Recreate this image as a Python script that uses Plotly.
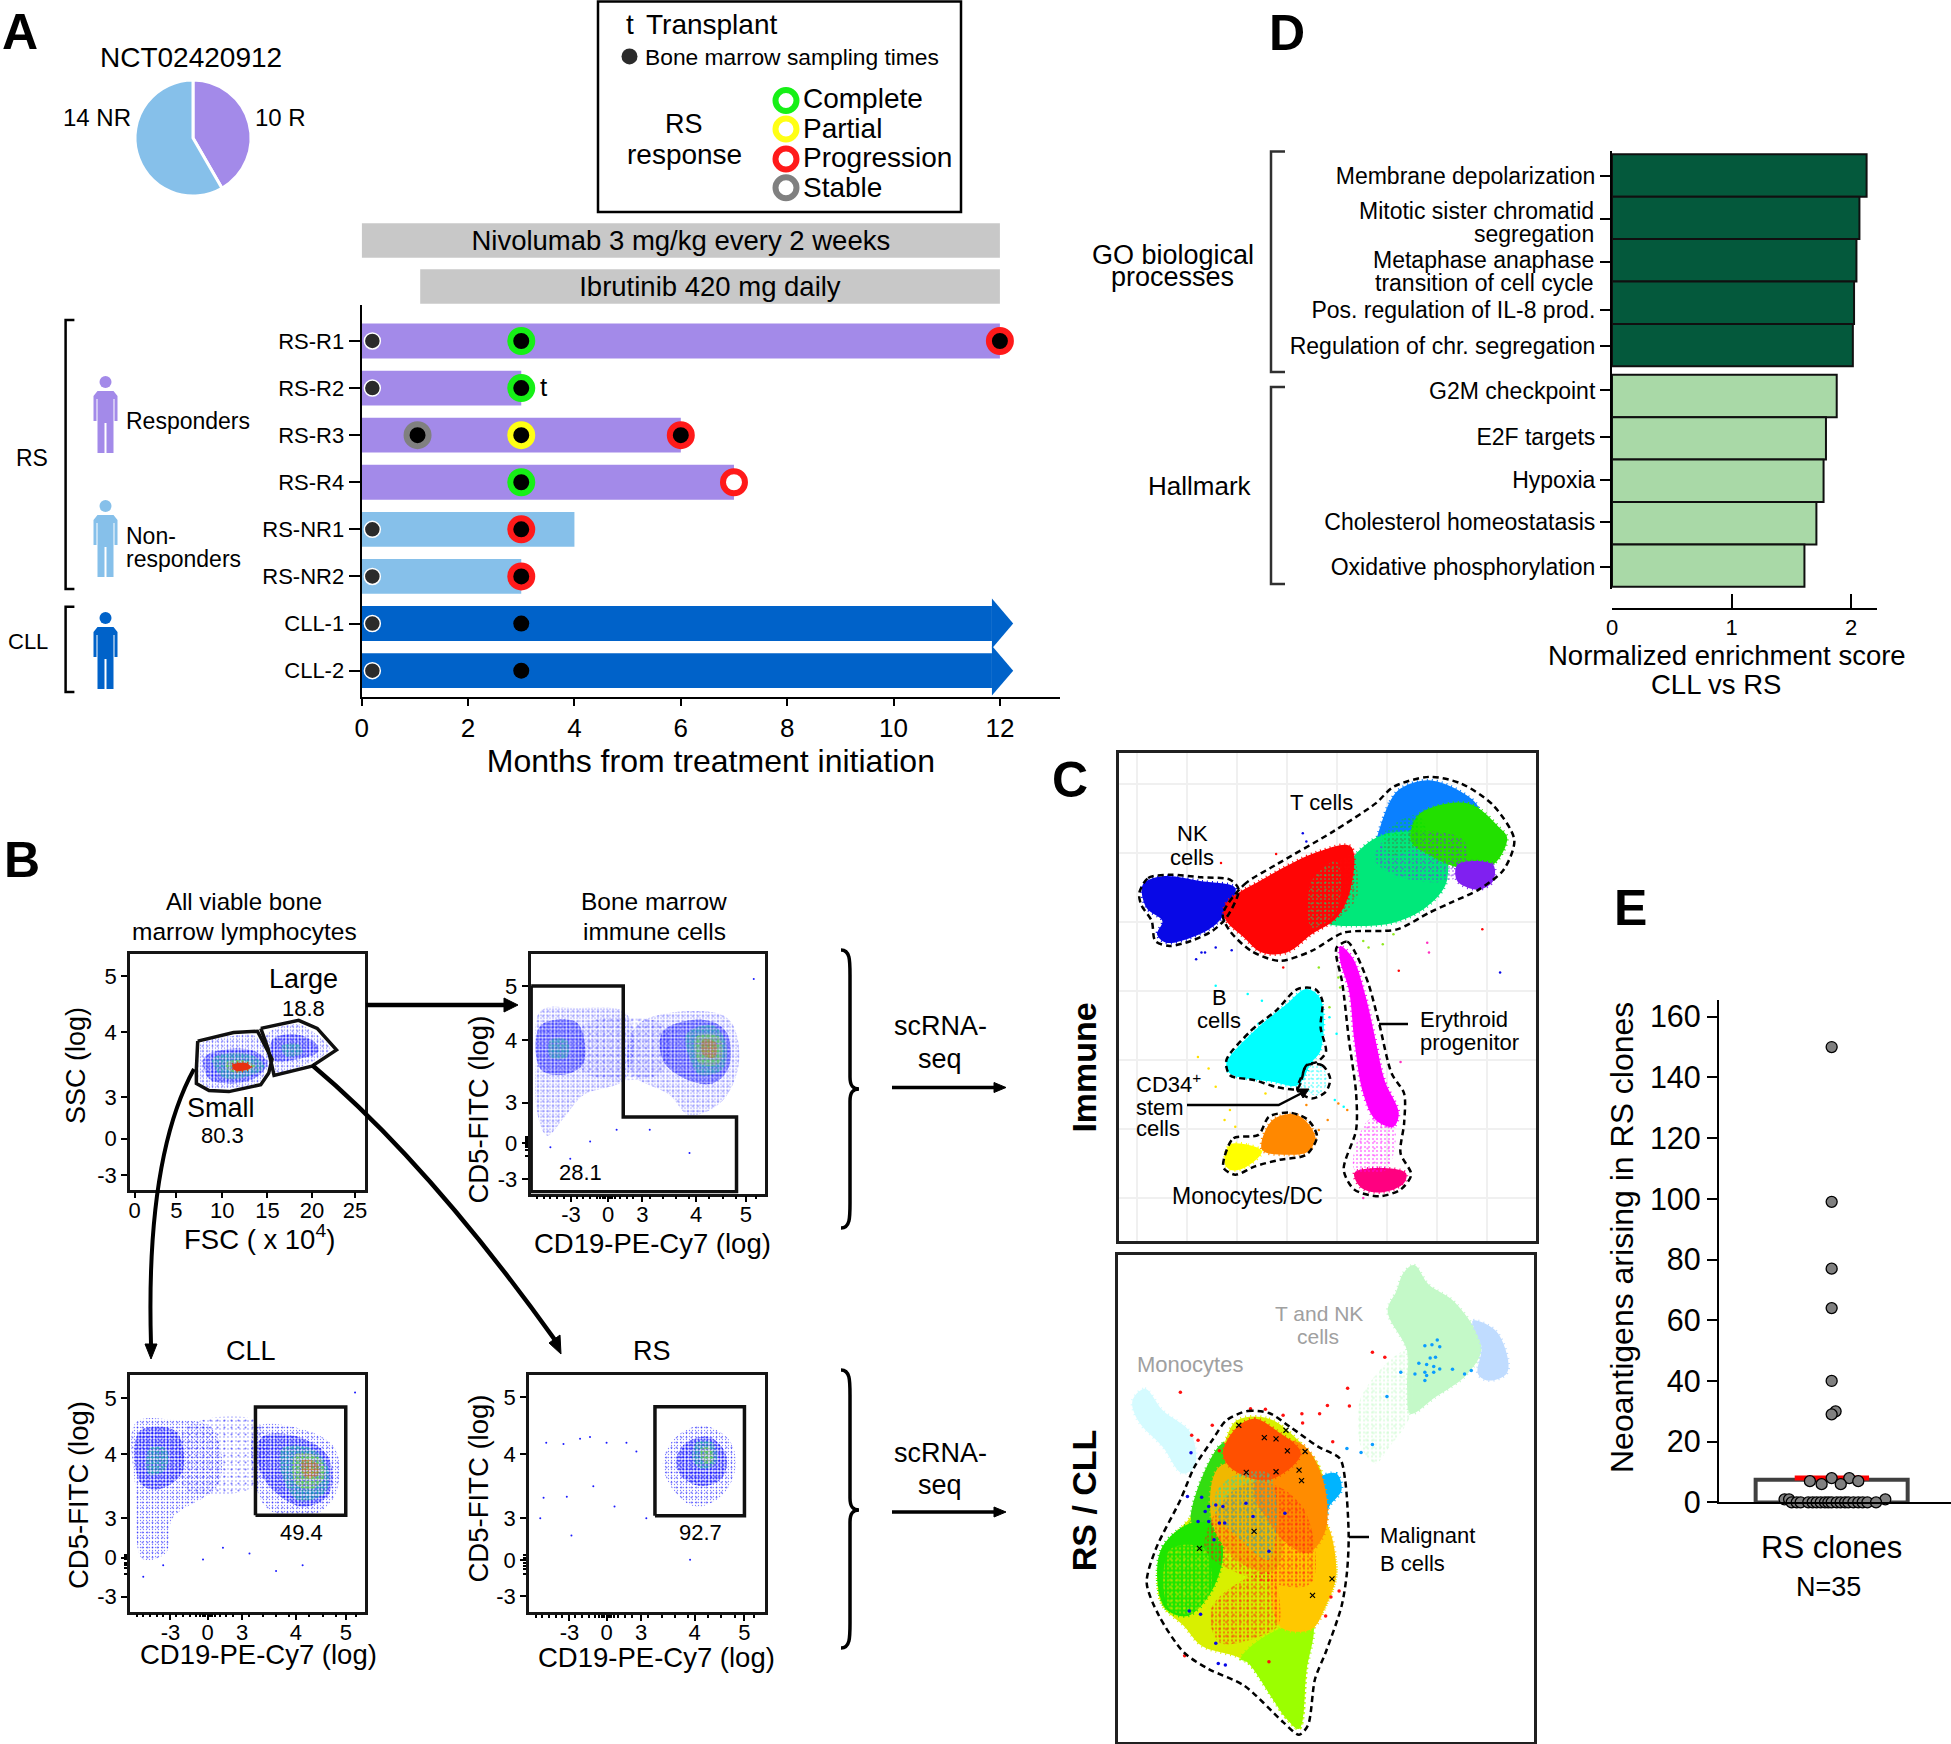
import plotly.graph_objects as go

W = 1951
H = 1744
REG = "Liberation Sans, Arial, sans-serif"

# ---- panel A
PIE_LABELS = ["R", "NR"]
PIE_VALUES = [10, 14]
ROWS = ["RS-R1", "RS-R2", "RS-R3", "RS-R4", "RS-NR1", "RS-NR2", "CLL-1", "CLL-2"]
MONTHS = [12, 3, 6, 7, 4, 3, 11.85, 11.85]
ROW_GROUP = ["R", "R", "R", "R", "NR", "NR", "CLL", "CLL"]
DRUGS = ["Nivolumab 3 mg/kg every 2 weeks", "Ibrutinib 420 mg daily"]
DRUG_START = [0, 1.1]
DRUG_END = [12, 12]
BASE_ROWS = ["RS-R1", "RS-R2", "RS-NR1", "RS-NR2", "CLL-1", "CLL-2"]
BASE_X = [0.2, 0.2, 0.2, 0.2, 0.2, 0.2]
CLL_ROWS = ["CLL-1", "CLL-2"]
CLL_X = [3, 3]
ARROW_TIP = 12.25
COMPLETE_ROWS = ["RS-R1", "RS-R2", "RS-R4"]
COMPLETE_X = [3, 3, 3]
PARTIAL_ROWS = ["RS-R3"]
PARTIAL_X = [3]
PROGRESSION_ROWS = ["RS-R1", "RS-R3", "RS-NR1", "RS-NR2"]
PROGRESSION_X = [12, 6, 3, 3]
STABLE_ROWS = ["RS-R3"]
STABLE_X = [1.05]
OPEN_ROWS = ["RS-R4"]
OPEN_X = [7]
MONTH_TICKS = [0, 2, 4, 6, 8, 10, 12]

# ---- panel D
NES = [2.13, 2.07, 2.045, 2.025, 2.015, 1.88, 1.79, 1.77, 1.71, 1.61]
NES_GROUP = ["GO", "GO", "GO", "GO", "GO", "H", "H", "H", "H", "H"]
NES_ROW = [0, 1, 2, 3, 4, 5.2, 6.2, 7.2, 8.2, 9.2]
# the ticks in the original do not sit quite on the bar centres
SET_ROWS = [0, 3.18, 4.03, 5.07, 6.16, 7.17, 8.18, 9.23]
SET_NAMES = ["Membrane depolarization", "Pos. regulation of IL-8 prod.",
             "Regulation of chr. segregation", "G2M checkpoint", "E2F targets",
             "Hypoxia", "Cholesterol homeostatasis", "Oxidative phosphorylation"]
TWO_LINE_ROWS = [1.03, 2.04]

# ---- panel E
NEO_VALUES = [150, 99, 77, 64, 40, 30, 29, 8, 8, 7, 7, 6, 6, 1, 1, 1,
              0, 0, 0, 0, 0, 0, 0, 0, 0, 0, 0, 0, 0, 0, 0, 0, 0, 0, 0]
NEO_SWARM = [0, 0, 0, 0, 0, .026, 0, 0, .116, -.143, .175, -.066, .06, -.31, -.28, .353,
             -.263, -.23, -.204, -.154, -.125, -.099, -.072, -.044, -.022, 0, .033, .059,
             .088, .11, .143, .175, .204, .235, .292]
NEO_BAR = 7.5
NEO_MEAN = 8
NEO_TICKS = [0, 20, 40, 60, 80, 100, 120, 140, 160]

# ---- panel B, values in channel units of each plot
F1_YTICKS = [36.8, 27.1, 16, 8.8, 2.5]
F2_YTICKS = [35.8, 26.5, 15.7, 8.7, 2.5]
F3_YTICKS = [36.8, 27.1, 16.1, 9.3, 2.6]
F4_YTICKS = [37.1, 27.2, 16.2, 9, 2.7]
LOG_LABELS = ["5", "4", "3", "0", "-3"]
FSC_TICKS = [0.7, 7, 13.9, 20.7, 27.4, 33.9]
FSC_LABELS = ["0", "5", "10", "15", "20", "25"]
CD19_TICKS = [6.1, 11.7, 16.9, 25, 32.5]
CD19_LABELS = ["-3", "0", "3", "4", "5"]
CD19_MINOR = [1, 2, 3, 4, 5, 7, 8, 9, 10, 10.5, 11, 11.3, 12, 12.3, 12.8, 13.5, 14.5, 15.5,
              18, 20, 22, 24, 27, 29, 31, 34]
LOG_MINOR = [6.5, 7.5, 8, 8.4, 9.1, 9.4, 9.8]

SMALL_GATE = ([10.2, 15.6, 19.2, 21.4, 20.9, 19.7, 14.9, 11.9, 10, 10, 10.2],
              [25.6, 27.1, 27.3, 22.5, 20.1, 18.1, 16.9, 17.1, 18.3, 20.8, 25.6])
LARGE_GATE = ([19.7, 25.4, 28.2, 31.1, 27.4, 21.7, 20.8, 19.7],
              [27.8, 29.2, 27.8, 24.1, 21.3, 19.7, 24.3, 27.8])
IMMUNE_GATE = ([0.1, 14, 14, 31.1, 31.1, 0.1, 0.1], [35.8, 35.8, 13.2, 13.2, 0.3, 0.3, 35.8])
CLL_GATE = ([18.9, 32.5, 32.5, 18.9, 18.9], [16.6, 16.6, 35.3, 35.3, 16.6])
RS_GATE = ([19, 32.5, 32.5, 19, 19], [16.6, 16.6, 35.4, 35.4, 16.6])

F1_CLOUDS = [
    ("sparse", [10.4, 15.4, 18.9, 21, 20.4, 19.4, 14.9, 11.9, 10.4], [24.8, 26.5, 26.5, 22.3, 20.3, 18.5, 17.5, 17.5, 18.8]),
    ("sparse", [20.6, 25.2, 27.4, 30.1, 26.9, 21.9, 20.9], [26.8, 28.5, 27.3, 24.3, 21.8, 20.3, 23.8]),
    ("mid", [21.4, 24.9, 27.9, 28.4, 24.4, 21.6], [25.8, 26.8, 25.3, 23.8, 22.3, 22.3]),
    ("mid", [11.2, 15.4, 18.9, 20.7, 18.9, 14.9, 11.9], [22.8, 24.3, 23.8, 21.8, 19.3, 18.3, 19.1]),
    ("green_dots", [22.9, 25.4, 25.9, 23.4], [24.8, 25.1, 23.5, 23.1]),
    ("green_dots", [12.4, 15.9, 19.2, 20.2, 17.9, 14.1], [22.5, 23.6, 22.7, 21.1, 19.6, 19.3]),
    ("yellow_dots", [14.4, 16.9, 18.9, 16.9, 14.9], [21.8, 22.3, 21.3, 20.3, 20.5]),
    ("red", [15.4, 17.6, 18.2, 15.9], [21.5, 21.8, 21, 20.5]),
]
F2_CLOUDS = [
    ("sparse", [1.5, 7, 14.5, 14.5, 8, 5, 2.5, 1, 0.8], [31.5, 32, 31, 20, 17, 13, 10, 14, 23]),
    ("thin", [8, 20, 20, 8], [29, 29, 21, 21]),
    ("sparse", [16, 25, 30, 31.5, 29, 24, 21, 15], [29, 31.5, 30, 23, 16, 13.5, 17, 21]),
    ("mid", [1.5, 7, 8, 5, 1.5], [29, 29.5, 22.5, 20.5, 21.5]),
    ("green_dots", [3, 5.5, 5.5, 3], [26.5, 26.5, 23.5, 23.5]),
    ("mid", [20, 26, 29.5, 30, 27.5, 23, 20], [28, 30, 28, 22, 19, 20, 23]),
    ("green_dots", [23.5, 27.5, 29.5, 29, 25.5, 24], [27.5, 29, 26, 21.5, 20.5, 23.5]),
    ("yellow_dots", [25, 28.5, 28.5, 25.5], [27, 27, 22.5, 22.5]),
    ("red_dots", [26, 28, 27.8, 26], [26.5, 26, 23.5, 24]),
]
F3_CLOUDS = [
    ("sparse", [0.9, 6.4, 12.4, 13.4, 6.4, 5.4, 1.9, 0.9], [32.6, 33.1, 31.6, 22.1, 16.1, 10.1, 9.1, 20.1]),
    ("thin", [8.4, 19.4, 19.4, 8.4], [31.6, 32.6, 22.1, 21.1]),
    ("sparse", [18.9, 25.4, 30.9, 30.9, 27.4, 20.4], [31.6, 31.6, 28.1, 20.1, 16.6, 18.1]),
    ("mid", [1.4, 6.9, 7.9, 4.4, 1.6], [31.1, 31.1, 24.1, 21.1, 22.1]),
    ("green_dots", [2.9, 5.4, 5.4, 2.9], [28.1, 28.1, 24.6, 23.6]),
    ("mid", [19.9, 25.4, 29.9, 29.9, 25.9, 21.4, 19.4], [30.1, 30.1, 26.6, 20.1, 18.1, 21.1, 25.1]),
    ("green_dots", [22.9, 27.4, 29.9, 29.4, 25.4, 22.9], [28.1, 28.1, 24.6, 20.6, 19.1, 23.6]),
    ("yellow_dots", [24.9, 28.4, 29.4, 27.4, 24.9], [27.1, 26.6, 23.6, 21.1, 22.1]),
    ("red_dots", [25.9, 28.2, 28.4, 26.4], [26.1, 25.6, 23.6, 23.1]),
]
F4_CLOUDS = [
    ("sparse", [22.2, 26.2, 30.2, 31.2, 29.2, 25.2, 21.7, 20.2], [30.2, 32.2, 29.7, 25.2, 20.2, 18.2, 21.2, 25.7]),
    ("mid", [23.7, 27.2, 29.7, 29.2, 26.2, 23.2, 22.2], [29.2, 30.2, 27.2, 23.2, 21.7, 23.2, 26.2]),
    ("green_dots", [25.2, 27.7, 28.2, 26.2, 24.7], [29.2, 29.2, 25.7, 24.7, 26.2]),
    ("yellow_dots", [26, 27.4, 27.7, 26.4], [28.2, 28.2, 26, 25.7]),
]
F2_STRAY_X = [33.7, 3, 6, 9, 13, 18, 24]
F2_STRAY_Y = [37, 8, 6, 9, 11, 11, 7]
F3_STRAY_X = [33.9, 2, 5, 11, 14, 18, 22, 26]
F3_STRAY_Y = [37.8, 6, 8, 9, 11, 10, 7, 8]
F4_STRAY_X = [2.6, 5.2, 7.7, 9.2, 11.7, 14.7, 16.2, 2.2, 5.7, 9.7, 12.9, 1.7, 6.4, 17.7, 24.3]
F4_STRAY_Y = [29.2, 29, 29.9, 30.2, 29.2, 29.2, 27.7, 19.7, 19.9, 21.7, 18.2, 16.2, 13.2, 16.2, 9]

# ---- panel C, arbitrary embedding units
U1_GRID_X = [2.68, 4.1, 5.5, 6.9, 8.3, 9.72, 11.12, 12.53]
U1_GRID_Y = [1.25, 3.33, 5.42, 7.5, 9.57, 11.65, 13.73]
U1_CLUSTERS = [
    ("#0808e6", [2.85, 3.4, 4.5, 5.45, 5.3, 4.9, 4.2, 3.5, 3.25, 3.4, 2.95], [10.7, 10.95, 10.8, 10.6, 10.1, 9.5, 9.1, 8.95, 9.2, 9.6, 10]),
    ("#0a80ff", [9.4, 9.8, 10.1, 10.9, 11.8, 12.3, 12.1, 11.2, 10.4, 9.8, 9.3], [12, 13.2, 13.6, 13.85, 13.5, 13, 12.4, 12, 11.6, 11.4, 11.6]),
    ("#00e87a", [7.9, 8.3, 9, 9.6, 10.4, 11.2, 11.4, 10.8, 9.9, 8.9, 8.1], [9.6, 10.8, 11.8, 12.2, 12.3, 12.2, 10.8, 10, 9.55, 9.45, 9.5]),
    ("#ff0505", [5.2, 6.2, 7.8, 8.7, 8.7, 8.3, 7.6, 6.9, 6.2, 5.7, 5.15], [10.15, 10.85, 11.7, 11.85, 10.6, 9.7, 9.2, 8.65, 8.65, 9.1, 9.7]),
    ("#22e000", [10.6, 12, 12.9, 13.1, 12.7, 11.8, 10.9, 10.4], [12.8, 13.15, 12.4, 12.1, 11.3, 11.2, 11.6, 12]),
    ("#8020f0", [11.7, 12.7, 12.7, 12.3, 11.7], [11.3, 11.3, 10.8, 10.55, 10.8]),
    ("#00ffff", [5.2, 5.9, 6.9, 7.45, 7.85, 7.85, 7.6, 7.2, 6.5, 5.3], [5.3, 6.2, 7.1, 7.55, 7.25, 5.7, 5.35, 4.65, 4.75, 5]),
    ("#ff8800", [6.5, 7.2, 7.7, 7.5, 6.9, 6.2], [3.6, 3.75, 3.1, 2.65, 2.55, 2.7]),
    ("#ffff00", [5.3, 5.8, 6.2, 5.7, 5.3, 5.15], [2.85, 2.85, 2.65, 2.15, 2.1, 2.3]),
    ("#ff00ff", [8.4, 8.75, 9.1, 9.4, 9.65, 10.05, 9.9, 9.4, 9.05, 8.8, 8.65, 8.4], [8.85, 8.5, 7.4, 6, 4.8, 3.8, 3.4, 3.6, 4.4, 6, 7.5, 8.4]),
    ("#ff0080", [8.8, 9.5, 10.25, 10.2, 9.6, 9], [2, 2.15, 2, 1.7, 1.42, 1.55]),
]
U1_SPECKLES = [
    ("#8020f0", [9.6, 11, 11.9, 11.8, 10.6, 9.4], [12, 12.3, 12, 11, 10.8, 11.4]),
    ("#ff0505", [8.1, 8.7, 8.9, 8.3], [11, 11.6, 10.4, 9.7]),
    ("#00e87a", [7.6, 8.3, 8.3, 7.6], [10.8, 11.4, 9.9, 9.4]),
    ("#00e000", [9.6, 10.6, 10.8, 9.8], [12.2, 12.8, 12.1, 11.6]),
    ("#00ffff", [7.4, 7.8, 8.05, 7.8, 7.3], [5.1, 5.25, 4.85, 4.35, 4.55]),
    ("#ff00ff", [9.2, 9.9, 9.7, 8.8], [3.6, 3.5, 2.1, 2.1]),
]
U1_STRAYS = [
    ("#00ffff", [4.9, 5.8, 6.2, 8.1, 8.3, 8.25, 8.5, 6.1], [7.65, 7.4, 7.2, 6.7, 6.2, 4.2, 4, 6.5]),
    ("#ff8800", [8.05, 8.35, 8.6, 7.8, 7.45], [3.6, 4.1, 3.9, 3.3, 4.05]),
    ("#ffe000", [4.7, 4.9, 5.3, 5.45, 4.4, 6.3, 5.15], [5.15, 4.6, 3.9, 3.4, 5.5, 4.4, 3.6]),
    ("#90e820", [7.8, 8.35, 9.2, 9.6, 9.9, 8.4, 9.05, 8.1], [8.2, 7.9, 8.8, 8.9, 9.2, 7.6, 9, 7]),
    ("#ff0505", [5.05, 6.6, 12.4, 10.05, 6.8], [11.35, 11.62, 9.35, 8.1, 8.2]),
    ("#0808e6", [7.35, 7.45, 4.6, 4.9, 4.35, 5.35, 12.9, 4.5], [12.25, 12, 8.65, 8.8, 8.45, 8.72, 8.05, 8.65]),
    ("#ff30c0", [10.1, 10.85, 10.9, 9.05], [5.35, 8.95, 8.65, 1.25]),
]
U1_OUTLINES = [
    ([2.75, 3, 3.6, 4.5, 5.3, 5.55, 5.2, 4.8, 4.2, 3.6, 3.2, 3.1, 2.8, 2.75],
     [10.45, 10.9, 11, 10.92, 10.85, 10.55, 9.7, 9.3, 9, 8.85, 9, 9.6, 10.1, 10.45]),
    ([5.1, 5.7, 6.6, 8.2, 9.4, 9.9, 10.9, 11.8, 12.7, 13.3, 13, 12.3, 11.5, 10.9, 10, 8.5, 7.6, 6.7, 5.9, 5.3, 5.1],
     [9.8, 10.7, 11.3, 12.3, 13.15, 13.65, 13.95, 13.75, 13.1, 12.05, 11.15, 10.55, 10.15, 9.85, 9.35, 9.25, 8.7, 8.4, 8.7, 9.3, 9.8]),
    ([5.2, 5.9, 6.6, 7.2, 7.7, 7.9, 7.85, 8, 7.75, 7.45, 7.2, 6.6, 6, 5.3, 5.2],
     [5.4, 6.3, 6.9, 7.55, 7.55, 7.2, 6.4, 5.65, 5.35, 5.25, 4.55, 4.6, 4.8, 4.95, 5.4]),
    ([7.45, 7.9, 8.12, 8, 7.6, 7.2, 7.35, 7.45], [5.25, 5.25, 4.85, 4.45, 4.25, 4.5, 5, 5.25]),
    ([5.15, 5.4, 6.1, 6.4, 7, 7.5, 7.75, 7.45, 6.7, 6, 5.45, 5.12, 5.15],
     [2.5, 3.05, 3.15, 3.7, 3.82, 3.6, 3.1, 2.55, 2.4, 2.2, 1.95, 2.15, 2.5]),
    ([8.3, 8.6, 8.85, 9.2, 9.5, 9.85, 10.2, 10.2, 10.1, 10.4, 10.1, 9.5, 8.8, 8.5, 8.85, 8.85, 8.65, 8.45, 8.3, 8.3],
     [8.8, 8.98, 8.6, 7.7, 6.5, 5, 4.4, 3.5, 2.6, 1.95, 1.5, 1.3, 1.5, 2.1, 3.3, 4.4, 6, 7.8, 8.5, 8.8]),
]

U2_CLUSTERS = [
    ("#c4f9c8", [10.2, 10.5, 10.9, 11.65, 12.4, 12, 11.1, 10.4, 10.3, 10.3, 9.75, 10],
     [14.15, 14.38, 13.8, 13.25, 11.9, 11.1, 10.4, 9.9, 10.7, 11.8, 13, 13.6]),
    ("#c0dcff", [12.15, 12.8, 13.15, 13.1, 12.6, 12.3, 12.4], [12.7, 12.4, 11.5, 11.1, 10.9, 11.1, 11.9]),
    ("#d5fbff", [2.55, 2.9, 3.4, 4.2, 4.3, 3.95, 3.4, 2.7], [10.3, 10.65, 10, 9.3, 8.3, 8.1, 8.9, 9.7]),
    ("#d8f000", [5.5, 6.4, 7.4, 7.9, 8, 8.3, 8, 7.6, 7.45, 7.25, 6.9, 5.8, 4.5, 4, 3.4, 3.25, 3.4, 4.2, 4.6, 5.1],
     [9.7, 9.75, 8.9, 8.1, 6.7, 5.1, 4.1, 3.3, 2.1, .4, .7, 2.4, 2.9, 3.5, 4.1, 4.8, 5.8, 6.8, 7.5, 8.9]),
    ("#9bff00", [5.6, 6.3, 7.6, 7.45, 7.25, 6.9, 5.8], [2.5, 3.2, 3.6, 2.1, .4, .7, 2.4]),
    ("#33dd11", [4.2, 5.1, 5.5, 5.4, 4.6], [6.7, 9, 8.1, 6.1, 6.1]),
    ("#1ee600", [3.25, 3.4, 4.2, 4.9, 5.1, 4.7, 4.1, 3.5], [4.9, 5.9, 6.6, 6.5, 5.6, 4.4, 3.8, 4]),
    ("#ffc800", [6.6, 7.9, 8.3, 8, 7.6, 6.7], [5.8, 6.7, 5.1, 4.1, 3.4, 3.5]),
    ("#f0b800", [5, 6.4, 6.6, 5.6, 4.8], [8.3, 8.3, 5.2, 5.4, 6.6]),
    ("#00b4ff", [7.75, 8.3, 8.45, 8.1, 8, 7.85], [7.9, 8.1, 7.6, 7.1, 6.7, 7.2]),
    ("#ff8c00", [6, 6.3, 7.3, 7.9, 8, 7.5, 6.9, 6.3], [7.4, 9, 9, 8, 6.4, 5.7, 6, 6.8]),
    ("#ff5000", [5.5, 6, 6.6, 7.3, 6.4, 5.4, 5.1], [9.5, 9.75, 9.4, 8.7, 7.9, 8.2, 8.7]),
]
U2_SPECKLES = [
    ("#c4f9c8", [9, 10.3, 10.4, 9.8, 9.4, 9], [10.4, 11.8, 9.9, 8.9, 8.4, 8.9]),
    ("#ff1010", [4.8, 6.4, 6.7, 6.4, 5], [4.1, 5.1, 3.6, 3.3, 3]),
    ("#ff1010", [4.6, 5.4, 6.4, 7.4, 7.6, 6.4], [5.8, 7.6, 7.8, 7, 4.8, 4.8]),
    ("#00e6c8", [5.2, 6.4, 6.4, 5.6, 4.8], [7.9, 8.1, 5.5, 6.1, 7.1]),
    ("#ffe000", [3.6, 4.6, 4.6, 3.6], [5.8, 5.8, 4, 4]),
]
U2_BLUE_X = [4.1, 4.5, 4.7, 4.9, 4.6, 5.1, 5, 5.15, 4.4, 4.7, 4.85, 5.95, 5.75, 6.4, 6.85, 4.15, 4.47, 4.97, 5.17, 4.2, 4.9]
U2_BLUE_Y = [7.4, 7.38, 7.1, 7.15, 6.95, 7.1, 6.6, 6.6, 6.65, 6.65, 6.1, 6.8, 7.2, 5.75, 6.9, 3.95, 3.85, 2.37, 2.32, 8.72, 2.98]
U2_RED_X = [3.9, 4.22, 4.4, 4.8, 5, 5.88, 6.3, 6.8, 7.33, 7.83, 8.05, 8.67, 8.62, 9.32, 9.67, 7.35, 8.2, 4.02, 6.4, 8.38, 8.15, 8]
U2_RED_Y = [10.55, 9.25, 9.1, 9.55, 8.78, 10.05, 10.03, 9.85, 9.9, 9.9, 10.15, 10.13, 10.67, 11.75, 11.6, 9.62, 9.05, 2.6, 2.42, 4.55, 4.37, 3.8]
U2_AZURE_X = [11.15, 11.22, 11, 10.8, 11.1, 10.95, 10.63, 10.85, 11.05, 11.22, 10.8, 11.05, 10.85, 10.52, 10.12, 10.8, 11.58, 11.92, 12.11, 9.73, 9.32, 9, 8.6]
U2_AZURE_Y = [12.12, 11.92, 11.98, 11.95, 11.6, 11.58, 11.42, 11.38, 11.32, 11.25, 11.15, 11.15, 11.05, 11.1, 11.15, 10.9, 11.24, 11.1, 11.2, 10.42, 8.97, 8.73, 8.85]
U2_X_X = [5.55, 6.27, 6.6, 6.92, 7.42, 5.76, 6.6, 7.25, 7.32, 4.44, 5.98, 8.18, 7.63, 6.88]
U2_X_Y = [9.55, 9.18, 9.14, 8.78, 8.76, 8.13, 8.15, 8.2, 7.88, 5.84, 6.35, 4.92, 4.42, 9.4]
U2_OUTLINE_X = [5.2, 5.8, 6.4, 7, 7.8, 8.4, 8.55, 8.65, 8.6, 8.45, 8, 7.7, 7.5, 7.25, 6.8, 5.7, 4.7, 4, 3.3, 2.95, 3.2, 3.9, 4.3, 4.8, 5.2]
U2_OUTLINE_Y = [9.7, 9.98, 9.92, 9.5, 8.9, 8.55, 7.9, 6.2, 5.1, 4.1, 2.7, 1.9, .5, .22, .6, 1.7, 2.2, 2.7, 3.8, 4.8, 5.8, 7.3, 8.3, 9.1, 9.7]

# legend of panel A
LEGEND_NAMES = ["Complete", "Partial", "Progression", "Stable"]
LEGEND_COLORS = ["#16f016", "#ffff14", "#ff1a1a", "#808080"]

PURPLE = "#a38ae9"
SKY = "#86c0ea"
ROYAL = "#0062c9"
GROUP_COLOR = {"R": PURPLE, "NR": SKY, "CLL": ROYAL}
NES_COLOR = {"GO": "#04593c", "H": "#a9d9a7"}
# each level is one or two dot screens, two sizes break up the regular grid
LEVELS = {
    "thin": [dict(dots="#0000ff", size=4, solidity=0.1), dict(dots="#0000ff", size=7, solidity=0.07)],
    "sparse": [dict(dots="#0000ff", size=3, solidity=0.14), dict(dots="#0000ff", size=5, solidity=0.12)],
    "mid": [dict(dots="#0000ff", size=3, solidity=0.5), dict(dots="#0000ff", size=4, solidity=0.35)],
    "green_dots": [dict(dots="#10d050", size=3, solidity=0.4), dict(dots="#10d0b0", size=5, solidity=0.2)],
    "yellow_dots": [dict(dots="#e8e020", size=3, solidity=0.4), dict(dots="#50e030", size=5, solidity=0.25)],
    "red_dots": [dict(dots="#e82010", size=3, solidity=0.5), dict(dots="#e0e020", size=4, solidity=0.2)],
    "red": [dict(fill="#e83010")],
}


def dom_x(a, b):
    return [a / W, b / W]


def dom_y(top, bottom):
    return [1 - bottom / H, 1 - top / H]


fig = go.Figure()
annotations = []
shapes = []
PX = dict(xaxis="x11", yaxis="y11")


def label(x, y, text, size=27, anchor="center", color="black", angle=0, weight=400):
    annotations.append(dict(x=x, y=y, xref="x11", yref="y11", text=text, showarrow=False,
                            xanchor=anchor, yanchor="middle", textangle=angle,
                            font=dict(size=size, family=REG, color=color, weight=weight)))


def stroke(path, width=3, color="black", fill=None, dash=None):
    shapes.append(dict(type="path", path=path, xref="x11", yref="y11", layer="above",
                       line=dict(color=color, width=width, dash=dash),
                       fillcolor=fill if fill else "rgba(0,0,0,0)"))


def blob(xs, ys, xa, ya, fill=None, dots=None, size=4, solidity=0.3):
    kw = dict(x=xs + xs[:1], y=ys + ys[:1], xaxis=xa, yaxis=ya, mode="lines", fill="toself", hoverinfo="skip")
    if fill:
        kw["fillcolor"] = fill
        # dotted rim so the cloud edge is not a hard line
        kw["line"] = dict(width=3, color=fill, dash="1px,4px", shape="spline", smoothing=1)
    else:
        kw["fillcolor"] = "rgba(0,0,0,0)"
        kw["line"] = dict(width=0, shape="spline", smoothing=1)
        kw["fillpattern"] = dict(shape=".", fgcolor=dots, size=size, solidity=solidity,
                                 bgcolor="rgba(0,0,0,0)")
    fig.add_trace(go.Scatter(**kw))


def person(cx, top, color):
    shapes.append(dict(type="circle", xref="x11", yref="y11", layer="above", x0=cx - 6, x1=cx + 6,
                       y0=top, y1=top + 12, fillcolor=color, line=dict(width=0)))
    y = top + 15
    pts = [(-8, 0), (8, 0), (12, 5), (12, 30), (9, 30), (9, 8), (8, 8), (8, 62), (1, 62), (1, 32),
           (-1, 32), (-1, 62), (-8, 62), (-8, 8), (-9, 8), (-9, 30), (-12, 30), (-12, 5)]
    path = "M " + " L ".join(f"{cx + a} {y + b}" for a, b in pts) + " Z"
    stroke(path, width=0, fill=color)


def brace(x, top, tip, bottom):
    s = x + 9
    stroke(f"M {x} {top} C {s} {top} {s} {top + 10} {s} {top + 25} L {s} {tip - 12} "
           f"C {s} {tip - 3} {x + 12} {tip} {x + 18} {tip} C {x + 12} {tip} {s} {tip + 3} {s} {tip + 12} "
           f"L {s} {bottom - 25} C {s} {bottom - 10} {s} {bottom} {x} {bottom}", width=3.5)


# pie
fig.add_trace(go.Pie(labels=PIE_LABELS, values=PIE_VALUES, sort=False, direction="clockwise", rotation=0,
                     domain=dict(x=dom_x(135, 251), y=dom_y(79.5, 196.5)), textinfo="none", hoverinfo="skip",
                     marker=dict(colors=[PURPLE, SKY], line=dict(color="white", width=3))))

# panel A bars
row_y = list(range(len(ROWS)))
rows_of = lambda names: [ROWS.index(n) for n in names]
fig.add_trace(go.Bar(x=MONTHS, y=row_y, orientation="h", width=0.74,
                     marker=dict(color=[GROUP_COLOR[g] for g in ROW_GROUP], line=dict(width=0)),
                     xaxis="x", yaxis="y", hoverinfo="skip"))
for r in rows_of(CLL_ROWS):
    fig.add_trace(go.Scatter(x=[MONTHS[r], ARROW_TIP, MONTHS[r], MONTHS[r]], y=[r - 0.53, r, r + 0.53, r - 0.53],
                             xaxis="x", yaxis="y", mode="lines", fill="toself", fillcolor=ROYAL,
                             line=dict(width=0), hoverinfo="skip"))
fig.add_trace(go.Scatter(x=BASE_X, y=rows_of(BASE_ROWS), mode="markers", xaxis="x", yaxis="y", cliponaxis=False,
                         marker=dict(size=16, color="#2b2b2b", line=dict(color="white", width=1.5)), hoverinfo="skip"))
fig.add_trace(go.Scatter(x=CLL_X, y=rows_of(CLL_ROWS), mode="markers", xaxis="x", yaxis="y",
                         marker=dict(size=16, color="black"), hoverinfo="skip"))
for xs, names, col, centre in [(COMPLETE_X, COMPLETE_ROWS, LEGEND_COLORS[0], "black"),
                               (PARTIAL_X, PARTIAL_ROWS, LEGEND_COLORS[1], "black"),
                               (PROGRESSION_X, PROGRESSION_ROWS, LEGEND_COLORS[2], "black"),
                               (STABLE_X, STABLE_ROWS, LEGEND_COLORS[3], "black"),
                               (OPEN_X, OPEN_ROWS, LEGEND_COLORS[2], "white")]:
    fig.add_trace(go.Scatter(x=xs, y=rows_of(names), mode="markers", xaxis="x", yaxis="y", cliponaxis=False,
                             marker=dict(size=22, color=centre, line=dict(color=col, width=6)), hoverinfo="skip"))

# drug bars
fig.add_trace(go.Bar(x=[e - s for s, e in zip(DRUG_START, DRUG_END)], y=[0, 1], base=DRUG_START, orientation="h",
                     width=0.75, marker=dict(color="#c8c8c8", line=dict(width=0)), text=DRUGS, textposition="inside",
                     insidetextanchor="middle", textangle=0, constraintext="none",
                     textfont=dict(size=27.5, family=REG, color="black"), xaxis="x2", yaxis="y2", hoverinfo="skip"))

# panel D
fig.add_trace(go.Bar(x=NES, y=NES_ROW, orientation="h", width=1, xaxis="x3", yaxis="y3", hoverinfo="skip",
                     marker=dict(color=[NES_COLOR[g] for g in NES_GROUP], line=dict(color="#101010", width=2))))

# panel E
fig.add_trace(go.Bar(x=[0], y=[NEO_BAR], width=1, xaxis="x4", yaxis="y4", hoverinfo="skip", cliponaxis=False,
                     marker=dict(color="white", line=dict(color="#404040", width=4))))
fig.add_trace(go.Scatter(x=[-0.243, 0.246], y=[NEO_MEAN, NEO_MEAN], mode="lines", xaxis="x4", yaxis="y4",
                         line=dict(color="#ff0000", width=5), hoverinfo="skip"))
fig.add_trace(go.Scatter(x=NEO_SWARM, y=NEO_VALUES, mode="markers", xaxis="x4", yaxis="y4", cliponaxis=False,
                         marker=dict(size=11, color="#808080", line=dict(color="black", width=1.3)), hoverinfo="skip"))

# panel B flow plots
for clouds, xa, ya in [(F1_CLOUDS, "x5", "y5"), (F2_CLOUDS, "x6", "y6"), (F3_CLOUDS, "x7", "y7"), (F4_CLOUDS, "x8", "y8")]:
    for level, xs, ys in clouds:
        for style in LEVELS[level]:
            blob(xs, ys, xa, ya, **style)
for xs, ys, xa, ya in [(F2_STRAY_X, F2_STRAY_Y, "x6", "y6"), (F3_STRAY_X, F3_STRAY_Y, "x7", "y7"), (F4_STRAY_X, F4_STRAY_Y, "x8", "y8")]:
    fig.add_trace(go.Scatter(x=xs, y=ys, mode="markers", xaxis=xa, yaxis=ya, marker=dict(size=2, color="#1a1aff"), hoverinfo="skip"))
for gate, xa, ya in [(SMALL_GATE, "x5", "y5"), (LARGE_GATE, "x5", "y5"), (IMMUNE_GATE, "x6", "y6"),
                     (CLL_GATE, "x7", "y7"), (RS_GATE, "x8", "y8")]:
    fig.add_trace(go.Scatter(x=gate[0], y=gate[1], mode="lines", xaxis=xa, yaxis=ya, hoverinfo="skip",
                             line=dict(color="#101010", width=3.5)))

# panel C maps
for col, xs, ys in U1_CLUSTERS:
    blob(xs, ys, "x9", "y9", fill=col)
for col, xs, ys in U1_SPECKLES:
    blob(xs, ys, "x9", "y9", dots=col, size=4, solidity=0.2)
    blob(xs, ys, "x9", "y9", dots=col, size=7, solidity=0.08)
for col, xs, ys in U1_STRAYS:
    fig.add_trace(go.Scatter(x=xs, y=ys, mode="markers", xaxis="x9", yaxis="y9", marker=dict(size=2.5, color=col), hoverinfo="skip"))
for xs, ys in U1_OUTLINES:
    fig.add_trace(go.Scatter(x=xs, y=ys, mode="lines", xaxis="x9", yaxis="y9", hoverinfo="skip",
                             line=dict(color="black", width=2.5, dash="6px,4px", shape="spline", smoothing=0.8)))
for col, xs, ys in U2_CLUSTERS:
    blob(xs, ys, "x10", "y10", fill=col)
for col, xs, ys in U2_SPECKLES:
    blob(xs, ys, "x10", "y10", dots=col, size=4, solidity=0.25)
    blob(xs, ys, "x10", "y10", dots=col, size=7, solidity=0.12)
for col, xs, ys in [("#0808e6", U2_BLUE_X, U2_BLUE_Y), ("#ff1010", U2_RED_X, U2_RED_Y), ("#0a9cff", U2_AZURE_X, U2_AZURE_Y)]:
    fig.add_trace(go.Scatter(x=xs, y=ys, mode="markers", xaxis="x10", yaxis="y10", marker=dict(size=3.5, color=col), hoverinfo="skip"))
fig.add_trace(go.Scatter(x=U2_X_X, y=U2_X_Y, mode="markers", xaxis="x10", yaxis="y10", hoverinfo="skip",
                         marker=dict(size=5, symbol="x-thin", line=dict(color="black", width=1.2))))
fig.add_trace(go.Scatter(x=U2_OUTLINE_X, y=U2_OUTLINE_Y, mode="lines", xaxis="x10", yaxis="y10", hoverinfo="skip",
                         line=dict(color="black", width=2.5, dash="6px,4px", shape="spline", smoothing=0.8)))

# legend rings sit in the full figure pixel frame
fig.add_trace(go.Scatter(x=[786] * 4, y=[100.5, 129, 159, 187.7], mode="markers", hoverinfo="skip",
                         marker=dict(size=21, color="white", line=dict(color=LEGEND_COLORS, width=6)), **PX))
fig.add_trace(go.Scatter(x=[629.5], y=[56.4], mode="markers", hoverinfo="skip",
                         marker=dict(size=16, color="#2b2b2b"), **PX))

# ---- text and drawn furniture
label(20, 32, "A", 50, weight=700)
label(22, 860, "B", 50, weight=700)
label(1070, 780, "C", 50, weight=700)
label(1287, 33, "D", 50, weight=700)
label(1630, 908, "E", 50, weight=700)

label(191, 57, "NCT02420912", 28)
label(96.7, 117.5, "14 NR", 24)
label(280.6, 117.5, "10 R", 24)

shapes.append(dict(type="rect", xref="x11", yref="y11", layer="above", x0=598, x1=961, y0=1.5, y1=212,
                   line=dict(color="black", width=2.5)))
label(630, 24.5, "t", 28)
label(643.7, 24.5, "Transplant", 28, anchor="left")
label(642.5, 57, "Bone marrow sampling times", 22.8, anchor="left")
label(684, 123.5, "RS", 27)
label(684, 154.5, "response", 28)
for name, yy in zip(LEGEND_NAMES, [98.5, 128, 157.5, 187.5]):
    label(800.5, yy, name, 28, anchor="left")

label(544, 387, "t", 26)
label(32.4, 458, "RS", 23)
label(28.4, 641, "CLL", 22)
label(124, 420.5, "Responders", 23, anchor="left")
label(124, 536, "Non-", 23, anchor="left")
label(124, 559, "responders", 23, anchor="left")
stroke("M 74.4 320 L 65.6 320 L 65.6 589 L 74.4 589", 2.5)
stroke("M 74.4 606.7 L 65.6 606.7 L 65.6 692 L 74.4 692", 2.5)
person(105.5, 376, PURPLE)
person(105.5, 500, SKY)
person(105.5, 612, ROYAL)

# panel D text
stroke("M 1285 151.4 L 1271 151.4 L 1271 372 L 1285 372", 2.5, "#303030")
stroke("M 1285 387 L 1271 387 L 1271 584 L 1285 584", 2.5, "#303030")
label(1172.5, 255, "GO biological", 27)
label(1172.5, 277, "processes", 27)
label(1200, 485.5, "Hallmark", 26)
label(1596, 211, "Mitotic sister chromatid", 23, anchor="right")
label(1596, 234, "segregation", 23, anchor="right")
label(1596, 260, "Metaphase anaphase", 23, anchor="right")
label(1596, 283, "transition of cell cycle", 23, anchor="right")
label(1727, 655, "Normalized enrichment score", 27.5)
label(1716, 684, "CLL vs RS", 27.5)

# panel E text
label(1622, 1238, "Neoantigens arising in RS clones", 32, angle=-90)
label(1828, 1586.5, "N=35", 27)

# panel B text
label(244, 901.5, "All viable bone", 24)
label(244, 931.6, "marrow lymphocytes", 24.5)
label(654, 901.5, "Bone marrow", 24.5)
label(654, 931.6, "immune cells", 24.5)
label(303.7, 979, "Large", 27)
label(303.7, 1008, "18.8", 22)
label(221, 1108, "Small", 27)
label(222, 1135.6, "80.3", 22)
label(259, 1237, "FSC ( x 10<sup>4</sup>)", 27.5)
label(76, 1066, "SSC (log)", 27, angle=-90)
label(580, 1172.7, "28.1", 22)
label(479, 1109.6, "CD5-FITC (log)", 27.5, angle=-90)
label(652, 1243, "CD19-PE-Cy7 (log)", 27.5)
label(250.7, 1350.7, "CLL", 27)
label(652, 1350.7, "RS", 27)
label(301.7, 1532, "49.4", 22)
label(700, 1532, "92.7", 22)
label(78, 1495, "CD5-FITC (log)", 27.5, angle=-90)
label(258.6, 1654, "CD19-PE-Cy7 (log)", 27.5)
label(477.5, 1489, "CD5-FITC (log)", 27.5, angle=-90)
label(656.5, 1657, "CD19-PE-Cy7 (log)", 27.5)
for y1, y2 in [(1025.5, 1058.5), (1453, 1485)]:
    label(940, y1, "scRNA-", 27)
    label(940, y2, "seq", 27)
brace(841, 950, 1089, 1228)
brace(841, 1370, 1510, 1648)
for yy in [1087.5, 1512]:
    stroke(f"M 892 {yy} L 996 {yy}", 3.5)
    stroke(f"M 994 {yy - 5} L 1006 {yy} L 994 {yy + 5} Z", 1, fill="black")
stroke("M 366 1005 L 506 1005", 4.5)
stroke("M 504 998 L 518 1005 L 504 1012 Z", 1, fill="black")
stroke("M 194 1069 Q 145.5 1157.5 151 1344", 4)
stroke("M 145 1344 L 157 1344 L 151 1359 Z", 1, fill="black")
stroke("M 312 1065 Q 427 1161.5 555 1340", 4.5)
stroke("M 549 1343 L 560 1335 L 561 1354 Z", 1, fill="black")

# panel C text
label(1083.6, 1068, "Immune", 34, angle=-90, weight=700)
label(1083.6, 1500.7, "RS / CLL", 34, angle=-90, weight=700)
label(1321, 802, "T cells", 22)
label(1192.5, 833, "NK", 22)
label(1192, 857, "cells", 22)
label(1219, 997, "B", 22)
label(1219, 1020, "cells", 22)
label(1417.5, 1019, "Erythroid", 22, anchor="left")
label(1417.5, 1042, "progenitor", 22, anchor="left")
stroke("M 1379 1024 L 1408 1024", 2.5)
label(1133.6, 1083, "CD34<sup>+</sup>", 22, anchor="left")
label(1133.6, 1107, "stem", 22, anchor="left")
label(1133.6, 1128, "cells", 22, anchor="left")
stroke("M 1187 1105 L 1278.6 1105 L 1302 1093", 2.5)
stroke("M 1298 1089 L 1309 1089 L 1303 1098 Z", 1, fill="black")
label(1247, 1196, "Monocytes/DC", 23)
label(1318.6, 1313, "T and NK", 21, color="#a0a0a0")
label(1318, 1336, "cells", 21, color="#a0a0a0")
label(1190, 1364, "Monocytes", 22, color="#a0a0a0")
label(1377.5, 1535, "Malignant", 22, anchor="left")
label(1377.5, 1563, "B cells", 22, anchor="left")
stroke("M 1349 1537 L 1369 1537", 2.5)

# ---- axes
line = dict(showline=True, linecolor="black", linewidth=2.2, zeroline=False, showgrid=False, ticks="outside",
            tickcolor="black", tickwidth=2)
frame = dict(line, mirror=True, linecolor="#151515", linewidth=2.5, ticklen=6, tickwidth=1.5)
blank = dict(visible=False, showgrid=False, zeroline=False)
umap = dict(showline=True, mirror=True, linecolor="#202020", linewidth=3, zeroline=False, showgrid=True,
            gridcolor="#f0f0f0", gridwidth=1.5, ticks="", showticklabels=False)
flow_font = dict(size=22, family=REG, color="black")
minor_x = dict(tickvals=CD19_MINOR, ticks="outside", ticklen=3, tickcolor="black")
minor_y = dict(tickvals=LOG_MINOR, ticks="outside", ticklen=3, tickcolor="black")

fig.update_layout(
    width=W, height=H, margin=dict(l=0, r=0, t=0, b=0, autoexpand=False), showlegend=False, hovermode=False,
    barmode="overlay", paper_bgcolor="white", plot_bgcolor="rgba(0,0,0,0)", font=dict(family=REG, color="black"),
    annotations=annotations, shapes=shapes,
    xaxis=dict(line, domain=dom_x(361.7, 1060), range=[0, 13.13], tickvals=MONTH_TICKS, ticklen=7,
               tickfont=dict(size=26), anchor="y",
               title=dict(text="Months from treatment initiation", font=dict(size=32), standoff=6)),
    yaxis=dict(line, domain=dom_y(305, 697), range=[7.56, -0.764], tickvals=row_y, ticktext=ROWS, ticklen=11,
               tickfont=dict(size=22), anchor="x"),
    xaxis2=dict(blank, domain=dom_x(361.7, 1060), range=[0, 13.13], anchor="y2"),
    yaxis2=dict(blank, domain=dom_y(219, 307), range=[1.446, -0.467], anchor="x2"),
    xaxis3=dict(line, domain=dom_x(1612, 1877), range=[0, 2.217], tickvals=[0, 1, 2], ticks="inside", ticklen=14,
                tickfont=dict(size=22), ticklabelstandoff=-2, anchor="free", position=1 - 609 / H),
    yaxis3=dict(line, domain=dom_y(150.5, 588.5), range=[9.74, -0.59], tickvals=SET_ROWS, ticktext=SET_NAMES, ticklen=10,
                tickfont=dict(size=23), anchor="x3",
                minor=dict(tickvals=TWO_LINE_ROWS, ticks="outside", ticklen=10, tickcolor="black", tickwidth=2)),
    xaxis4=dict(line, domain=dom_x(1719, 1951), range=[-0.741, 0.785], tickvals=[0], ticktext=["RS clones"], ticks="",
                tickfont=dict(size=31), ticklabelstandoff=16, anchor="y4"),
    yaxis4=dict(line, domain=dom_y(1000, 1502.4), range=[0, 165.5], tickvals=NEO_TICKS, ticklen=10,
                tickfont=dict(size=30.5), anchor="x4"),
    xaxis5=dict(frame, domain=dom_x(130, 365), range=[0, 35.4], tickvals=FSC_TICKS, ticktext=FSC_LABELS,
                tickfont=flow_font, ticklabelstandoff=-7, anchor="y5"),
    yaxis5=dict(frame, domain=dom_y(953.6, 1189.6), range=[0, 40.7], tickvals=F1_YTICKS, ticktext=LOG_LABELS,
                tickfont=flow_font, anchor="x5"),
    xaxis6=dict(frame, domain=dom_x(530.5, 765), range=[0, 35.4], tickvals=CD19_TICKS, ticktext=CD19_LABELS,
                tickfont=flow_font, ticklabelstandoff=-7, anchor="y6", minor=minor_x),
    yaxis6=dict(frame, domain=dom_y(953.6, 1193.6), range=[0, 41.4], tickvals=F2_YTICKS, ticktext=LOG_LABELS,
                tickfont=flow_font, anchor="x6", minor=minor_y),
    xaxis7=dict(frame, domain=dom_x(130, 365), range=[0, 35.4], tickvals=CD19_TICKS, ticktext=CD19_LABELS,
                tickfont=flow_font, ticklabelstandoff=-7, anchor="y7", minor=minor_x),
    yaxis7=dict(frame, domain=dom_y(1375, 1611.6), range=[0, 40.8], tickvals=F3_YTICKS, ticktext=LOG_LABELS,
                tickfont=flow_font, anchor="x7", minor=minor_y),
    xaxis8=dict(frame, domain=dom_x(529, 765), range=[0, 35.6], tickvals=CD19_TICKS, ticktext=CD19_LABELS,
                tickfont=flow_font, ticklabelstandoff=-7, anchor="y8", minor=minor_x),
    yaxis8=dict(frame, domain=dom_y(1375, 1612), range=[0, 40.9], tickvals=F4_YTICKS, ticktext=LOG_LABELS,
                tickfont=flow_font, anchor="x8", minor=minor_y),
    xaxis9=dict(umap, domain=dom_x(1119, 1536), range=[2.18, 13.91], tickvals=U1_GRID_X, anchor="y9"),
    yaxis9=dict(umap, domain=dom_y(753, 1241), range=[-0.05, 14.67], tickvals=U1_GRID_Y, anchor="x9"),
    xaxis10=dict(umap, domain=dom_x(1118, 1534), range=[2.14, 13.88], showgrid=False, anchor="y10"),
    yaxis10=dict(umap, domain=dom_y(1254.5, 1742), range=[0, 14.7], showgrid=False, anchor="x10"),
    xaxis11=dict(blank, domain=[0, 1], range=[0, W], anchor="y11"),
    yaxis11=dict(blank, domain=[0, 1], range=[H, 0], anchor="x11"),
)

fig.write_html("out.html", post_script="document.body.style.margin='0';", config={"displayModeBar": False})
